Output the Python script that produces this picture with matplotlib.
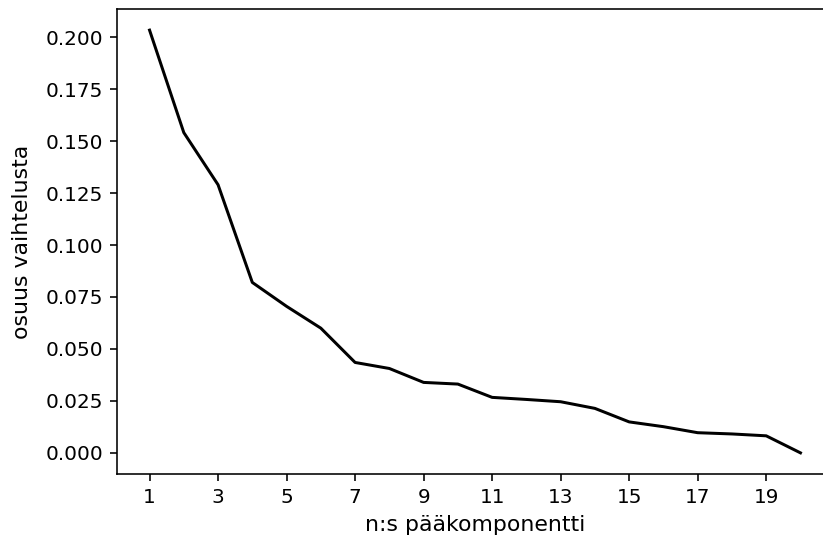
import matplotlib
matplotlib.use("Agg")
import matplotlib.pyplot as plt

components = list(range(1, 21))
variance_ratio = [0.2034, 0.1541, 0.1290, 0.0820, 0.0705, 0.0600, 0.0435, 0.0406,
                  0.0339, 0.0331, 0.0267, 0.0257, 0.0246, 0.0214, 0.0149, 0.0126,
                  0.0097, 0.0091, 0.0082, 0.0000]
xtick_values = list(range(1, 21, 2))

fig = plt.figure(figsize=(823/144, 543/144), dpi=144)
ax = fig.add_axes([117/823, 1-474/543, (833-117)/823, (474-9)/543])
ax.plot(components, variance_ratio, color="black", linewidth=1.5)
ax.set_xticks(xtick_values)
ax.tick_params(labelsize=10)
ax.set_xlabel("n:s pääkomponentti", fontsize=11)
ax.set_ylabel("osuus vaihtelusta", fontsize=11, labelpad=6.5)
fig.savefig("out.png", dpi=144)
